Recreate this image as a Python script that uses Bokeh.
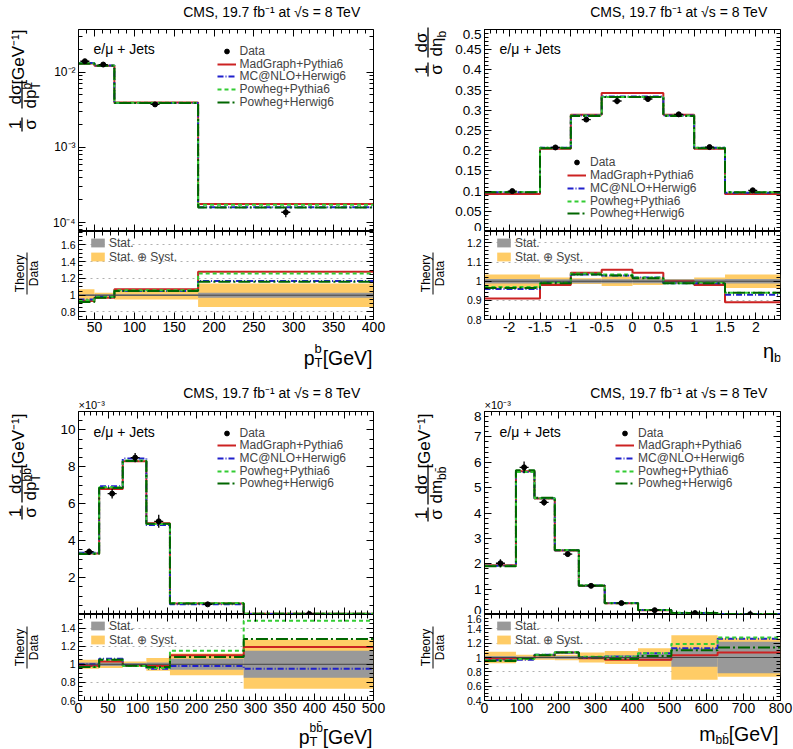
from math import pi, log10
from bokeh.plotting import figure
from bokeh.models import (Range1d, Label, Arrow, Legend, LegendItem, LinearAxis, LogAxis,
                          FixedTicker, SingleIntervalTicker, NumeralTickFormatter, Span)
from bokeh.layouts import column, row
from bokeh.embed import file_html
from bokeh.resources import INLINE

FONT = "Liberation Sans"

# ---------------- panel 1 : pT of b jets ----------------
ptb_edges = [30, 50, 75, 180, 400]
ptb_data_x = [38, 61, 126, 290]
ptb_data = [1.40e-2, 1.265e-2, 3.73e-3, 1.37e-4]
ptb_mg = [1.31e-2, 1.22e-2, 3.95e-3, 1.76e-4]
ptb_mc = [1.33e-2, 1.23e-2, 3.90e-3, 1.60e-4]
ptb_pp = [1.32e-2, 1.23e-2, 3.93e-3, 1.73e-4]
ptb_ph = [1.30e-2, 1.22e-2, 3.90e-3, 1.59e-4]
ptb_r_mg = [0.93, 0.97, 1.07, 1.28]
ptb_r_mc = [0.95, 0.98, 1.05, 1.17]
ptb_r_pp = [0.94, 0.98, 1.06, 1.26]
ptb_r_ph = [0.92, 0.97, 1.05, 1.16]
ptb_stat = [0.01, 0.01, 0.01, 0.03]
ptb_syst = [0.07, 0.03, 0.05, 0.14]

# ---------------- panel 2 : eta of b jets ----------------
eta_edges = [-2.4, -1.5, -1.0, -0.5, 0.0, 0.5, 1.0, 1.5, 2.4]
eta_data_x = [-1.95, -1.25, -0.75, -0.25, 0.25, 0.75, 1.25, 1.95]
eta_data = [0.100, 0.208, 0.277, 0.323, 0.328, 0.290, 0.209, 0.102]
eta_mg = [0.093, 0.205, 0.289, 0.343, 0.343, 0.289, 0.205, 0.093]
eta_mc = [0.097, 0.207, 0.287, 0.334, 0.334, 0.287, 0.207, 0.096]
eta_pp = [0.098, 0.207, 0.287, 0.333, 0.333, 0.287, 0.207, 0.097]
eta_ph = [0.097, 0.206, 0.286, 0.333, 0.333, 0.286, 0.206, 0.097]
eta_r_mg = [0.91, 0.98, 1.045, 1.06, 1.045, 1.0, 0.98, 0.89]
eta_r_mc = [0.96, 0.995, 1.035, 1.03, 1.02, 0.99, 0.99, 0.93]
eta_r_pp = [0.97, 0.995, 1.04, 1.035, 1.02, 0.99, 0.995, 0.94]
eta_r_ph = [0.965, 0.99, 1.035, 1.03, 1.015, 0.99, 0.99, 0.94]
eta_stat = [0.012, 0.01, 0.01, 0.01, 0.01, 0.01, 0.01, 0.012]
eta_syst = [0.035, 0.02, 0.015, 0.025, 0.02, 0.012, 0.02, 0.035]

# ---------------- panel 3 : pT of the bb system (x 1e-3) ----------------
ptbb_edges = [0, 35, 75, 115, 155, 280, 500]
ptbb_data_x = [18, 57, 96, 136, 219, 391]
ptbb_data = [3.40, 6.55, 8.50, 5.05, 0.55, 0.03]
ptbb_mg = [3.30, 6.80, 8.30, 4.95, 0.60, 0.035]
ptbb_mc = [3.35, 6.95, 8.45, 4.85, 0.56, 0.028]
ptbb_pp = [3.30, 6.90, 8.35, 4.90, 0.62, 0.044]
ptbb_ph = [3.28, 6.85, 8.32, 4.92, 0.59, 0.038]
ptbb_r_mg = [0.98, 1.03, 0.99, 0.98, 1.10, 1.19]
ptbb_r_mc = [1.00, 1.06, 0.99, 0.95, 0.98, 0.95]
ptbb_r_pp = [0.97, 1.05, 0.98, 0.96, 1.15, 1.48]
ptbb_r_ph = [0.97, 1.05, 0.985, 0.97, 1.08, 1.28]
ptbb_stat = [0.02, 0.02, 0.015, 0.02, 0.06, 0.15]
ptbb_syst = [0.05, 0.04, 0.03, 0.07, 0.12, 0.27]

# ---------------- panel 4 : mass of the bb system (x 1e-3) ----------------
mbb_edges = [0, 85, 135, 190, 255, 325, 415, 505, 630, 800]
mbb_data_x = [43, 107, 161, 225, 288, 370, 460, 569, 718]
mbb_data = [2.02, 5.80, 4.42, 2.38, 1.13, 0.45, 0.17, 0.055, 0.013]
mbb_mg = [1.94, 5.65, 4.57, 2.52, 1.13, 0.44, 0.165, 0.057, 0.014]
mbb_mc = [1.92, 5.62, 4.58, 2.53, 1.14, 0.455, 0.18, 0.062, 0.0165]
mbb_pp = [1.92, 5.62, 4.58, 2.54, 1.15, 0.455, 0.18, 0.065, 0.0167]
mbb_ph = [1.90, 5.68, 4.60, 2.53, 1.13, 0.44, 0.174, 0.060, 0.015]
mbb_r_mg = [0.98, 0.99, 1.03, 1.07, 0.99, 0.97, 0.97, 1.03, 1.07]
mbb_r_mc = [0.96, 0.97, 1.04, 1.07, 1.00, 1.01, 1.06, 1.13, 1.26]
mbb_r_pp = [0.96, 0.98, 1.04, 1.075, 1.01, 1.01, 1.06, 1.19, 1.28]
mbb_r_ph = [0.95, 0.99, 1.03, 1.07, 1.00, 0.98, 1.02, 1.10, 1.14]
mbb_stat = [0.02, 0.015, 0.015, 0.02, 0.02, 0.03, 0.05, 0.13, 0.22]
mbb_syst = [0.08, 0.04, 0.03, 0.04, 0.07, 0.09, 0.13, 0.31, 0.27]

KEYS = ["mg", "mc", "pp", "ph"]
NAMES = {"mg": "MadGraph+Pythia6", "mc": "MC@NLO+Herwig6",
         "pp": "Powheg+Pythia6", "ph": "Powheg+Herwig6"}
COL = {"mg": "#cc2222", "mc": "#2020cc", "pp": "#33cc33", "ph": "#006600"}
DASH = {"mg": "solid", "mc": "6 2 1 2", "pp": "4 3", "ph": "12 3 2 3"}
ORANGE = "#ffcc66"
GRAY = "#999999"
CMS_TEXT = "CMS, 19.7 fb\u207b\u00b9 at \u221as = 8 TeV"
CHANNEL = "e/\u03bc + Jets"
BBBAR = "bb\u0304"
LEG_FS = 12
ROW_H = 13.8   # height Bokeh gives one legend row at 12px


def base_fig(w, h, xr, yr, bl, br, bt, bb, ylog=False):
    p = figure(width=w, height=h, x_range=xr, y_range=yr, title=None,
               y_axis_type="log" if ylog else "linear",
               output_backend="svg", toolbar_location=None,
               min_border_left=bl, min_border_right=br,
               min_border_top=bt, min_border_bottom=bb)
    p.outline_line_color = "black"
    p.outline_line_width = 1
    p.background_fill_color = "white"
    p.border_fill_color = "white"
    p.xgrid.visible = False
    p.ygrid.visible = False
    return p


def text_fig(w, h, bl=0, br=0):
    p = figure(width=w, height=h, x_range=(0, 1), y_range=(0, 1), title=None,
               output_backend="svg", toolbar_location=None,
               min_border_left=bl, min_border_right=br, min_border_top=0, min_border_bottom=0,
               x_axis_location=None, y_axis_location=None)
    p.outline_line_color = None
    p.grid.visible = False
    p.background_fill_color = "white"
    p.border_fill_color = "white"
    return p


def style_axis(ax, ticker, label_size=None, formatter=None, standoff=2, overrides=None, loc=None):
    ax.ticker = ticker
    ax.axis_line_color = "black"
    ax.major_tick_in = 7
    ax.major_tick_out = 0
    ax.minor_tick_in = 4
    ax.minor_tick_out = 0
    ax.major_tick_line_color = "black"
    ax.minor_tick_line_color = "black"
    ax.axis_label = None
    if label_size is None:
        ax.major_label_text_color = None
        ax.major_label_standoff = 0
        ax.fixed_location = loc
    else:
        ax.major_label_text_font = FONT
        ax.major_label_text_font_size = f"{label_size}px"
        ax.major_label_text_color = "black"
        ax.major_label_standoff = standoff
        if formatter is not None:
            ax.formatter = formatter
        if overrides is not None:
            ax.major_label_overrides = overrides


def add_axes(p, xr, yr, xt, yt, xlab, ylab, xfmt=None, yfmt=None, ylog=False, yover=None):
    style_axis(p.xaxis[0], xt, xlab, xfmt, standoff=2, loc=yr.start)
    style_axis(p.yaxis[0], yt, ylab, yfmt, standoff=3, overrides=yover)
    top = LinearAxis()
    style_axis(top, xt, loc=yr.end)
    p.add_layout(top, "above")
    right = LogAxis() if ylog else LinearAxis()
    style_axis(right, yt, loc=xr.end)
    p.add_layout(right, "right")


def edge_label(p, xpos, ypos, text, size):
    # the half of a main-panel tick label that spills over the frame edge into a neighbour strip
    ax = LinearAxis(fixed_location=xpos, ticker=FixedTicker(ticks=[ypos]),
                    major_label_overrides={ypos: text})
    ax.axis_line_color = None
    ax.major_tick_in = 0
    ax.major_tick_out = 0
    ax.minor_tick_in = 0
    ax.minor_tick_out = 0
    ax.major_label_text_font = FONT
    ax.major_label_text_font_size = f"{size}px"
    ax.major_label_text_color = "black"
    ax.major_label_standoff = 3
    p.add_layout(ax, "left")


def hl(p, F, px, py, text, size, align="left", baseline="alphabetic"):
    p.add_layout(Label(x=px - F[0], y=F[1] - py, x_units="screen", y_units="screen",
                       text=text, text_font=FONT, text_font_size=f"{size}px",
                       text_align=align, text_baseline=baseline, text_color="black"))


def channel_label(p, xr, yr, fw, fh, dx, dy, ylog=False):
    # place the channel text dx px right of the frame's left edge, dy px below its top
    x = xr.start + dx * (xr.end - xr.start) / fw
    if ylog:
        y = 10 ** (log10(yr.end) - dy * (log10(yr.end) - log10(yr.start)) / fh)
    else:
        y = yr.end - dy * (yr.end - yr.start) / fh
    p.add_layout(Label(x=x, y=y, text=CHANNEL, text_font=FONT, text_font_size="14px",
                       text_align="left", text_baseline="middle", text_color="black"))


def rl(p, F, px, py, text, size, align="center"):
    p.add_layout(Label(x=px - F[0], y=F[1] - py, x_units="screen", y_units="screen",
                       angle=pi / 2, text=text, text_font=FONT,
                       text_font_size=f"{size}px", text_align=align,
                       text_baseline="middle", text_color="black"))


def vb(p, F, px, y0, y1, w=1.3):
    p.add_layout(Arrow(end=None, x_start=px - F[0], y_start=F[1] - y0,
                       x_end=px - F[0], y_end=F[1] - y1,
                       start_units="screen", end_units="screen",
                       line_color="black", line_width=w))


def step_y(v):
    return list(v) + [v[-1]]


def draw_main(p, edges, mains, dx, dy, syst):
    lines = {}
    for k in KEYS:
        lines[k] = p.step(x=edges, y=step_y(mains[k]), mode="after", line_color=COL[k],
                          line_width=2, line_dash=DASH[k])
    lo = [y - y * s for y, s in zip(dy, syst)]
    hi = [y + y * s for y, s in zip(dy, syst)]
    p.segment(x0=dx, y0=lo, x1=dx, y1=hi, line_color="black", line_width=1.3)
    p.scatter(x=dx, y=dy, marker="dash", size=9, line_color="black", line_width=1.3)
    rd = p.scatter(x=dx, y=dy, marker="circle", size=5, fill_color="black", line_color="black")
    return rd, lines


def draw_ratio(p, edges, ratios, stat, syst):
    left, right = edges[:-1], edges[1:]
    rsy = p.quad(left=left, right=right, bottom=[1 - s for s in syst], top=[1 + s for s in syst],
                 fill_color=ORANGE, line_color=None)
    rst = p.quad(left=left, right=right, bottom=[1 - s for s in stat], top=[1 + s for s in stat],
                 fill_color=GRAY, line_color=None)
    p.add_layout(Span(location=1, dimension="width", line_color="#444444", line_width=1, level="glyph"))
    for k in KEYS:
        p.step(x=edges, y=step_y(ratios[k]), mode="after", line_color=COL[k],
               line_width=2, line_dash=DASH[k])
    return rst, rsy


def main_legend(p, rd, lines, vx, B, y_first, pitch):
    entries = [("Data", rd)] + [(NAMES[k], lines[k]) for k in KEYS]
    for i, (lab, r) in enumerate(entries):
        yc = y_first + pitch * i
        lg = Legend(items=[LegendItem(label=lab, renderers=[r])],
                    location=(vx, B - yc - ROW_H / 2), orientation="vertical",
                    background_fill_alpha=0, border_line_alpha=0,
                    label_text_font=FONT, label_text_font_size=f"{LEG_FS}px",
                    label_height=12, glyph_height=12, glyph_width=19,
                    label_standoff=4, spacing=0, padding=0, margin=0)
        p.add_layout(lg)


def ratio_legend(p, rst, rsy, vx, vy):
    items = [LegendItem(label="Stat.", renderers=[rst]),
             LegendItem(label="Stat. \u2295 Syst.", renderers=[rsy])]
    lg = Legend(items=items, location=(vx, vy), orientation="vertical",
                background_fill_alpha=0, border_line_alpha=0,
                label_text_font=FONT, label_text_font_size="12px",
                label_height=11, glyph_height=11, glyph_width=17,
                label_standoff=3, spacing=0, padding=0, margin=0)
    p.add_layout(lg)
    p.ygrid.visible = True
    p.ygrid.grid_line_dash = "dotted"
    p.ygrid.grid_line_color = "#b0b0b0"


def theory_data(p, F, L, cy):
    rl(p, F, L - 59, cy, "Theory", 12)
    rl(p, F, L - 44.5, cy, "Data", 12)
    vb(p, F, L - 51.5, cy - 21, cy + 21, 1)


# ---------------- geometry (page pixels) ----------------
WL1, WL2 = 42, 52          # left text strips
WP1, WP2 = 356, 343        # panel figure widths
BL1, BR1 = 36, 25
BL2, BR2 = 34, 13
FW1, FW2 = WP1 - BL1 - BR1, WP2 - BL2 - BR2
TT1, TT2 = 29, 41          # title strip heights
HM1, HM2 = 202, 203        # main frame heights
HR1, HR2 = 108, 106        # ratio figure heights (frame + tick labels)
XB1, XB2 = 31, 29          # x-title strip heights
RBB = 20

# ================= panel 1 =================
L, R, T, B, RB = 78, 373, 29, 231, 319
xr1 = Range1d(30, 400)
yr1m, yr1r = Range1d(7.6e-5, 0.037), Range1d(0.71, 1.76)
m1 = base_fig(WP1, HM1, xr1, yr1m, BL1, BR1, 0, 0, ylog=True)
r1 = base_fig(WP1, HR1, xr1, yr1r, BL1, BR1, 0, RBB)
lt1 = text_fig(WL1, TT1 + HM1 + HR1 + XB1)
tt1 = text_fig(WP1, TT1, BL1, BR1)
bt1 = text_fig(WP1, XB1, BL1, BR1)
FLT, FTT, FBT = (0, 370), (L, 29), (L, 370)
xt = SingleIntervalTicker(interval=50, num_minor_ticks=5)
log_minor = [k * 10.0 ** e for e in (-5, -4, -3, -2) for k in range(2, 10)]
yt = FixedTicker(ticks=[1e-4, 1e-3, 1e-2], minor_ticks=log_minor)
add_axes(m1, xr1, yr1m, xt, yt, None, 12, ylog=True,
         yover={1e-4: "10\u207b\u2074", 1e-3: "10\u207b\u00b3", 1e-2: "10\u207b\u00b2"})
add_axes(r1, xr1, yr1r, xt, SingleIntervalTicker(interval=0.2, num_minor_ticks=4), 14, 10.5,
         yfmt=NumeralTickFormatter(format="0.[0]"))
rd, lines = draw_main(m1, ptb_edges, {"mg": ptb_mg, "mc": ptb_mc, "pp": ptb_pp, "ph": ptb_ph},
                      ptb_data_x, ptb_data, ptb_syst)
rst, rsy = draw_ratio(r1, ptb_edges, {"mg": ptb_r_mg, "mc": ptb_r_mc, "pp": ptb_r_pp, "ph": ptb_r_ph},
                      ptb_stat, ptb_syst)
main_legend(m1, rd, lines, 138.5, B, 51, 12.7)
ratio_legend(r1, rst, rsy, 11, 55.25)
hl(tt1, FTT, R - 13, T - 18, CMS_TEXT, 14, "right", "middle")
channel_label(m1, xr1, yr1m, FW1, HM1, 15, 19, ylog=True)
rl(lt1, FLT, L - 60, T + 0, "[GeV\u207b\u00b9]", 17, "right")
vb(lt1, FLT, L - 56.5, T + 51, T + 79)
rl(lt1, FLT, L - 63.5, T + 65, "d\u03c3", 17)
rl(lt1, FLT, L - 48.5, T + 79, "dp", 17, "left")
rl(lt1, FLT, L - 43, T + 60, "T", 12, "left")
rl(lt1, FLT, L - 52, T + 60, "b", 12, "left")
vb(lt1, FLT, L - 56.5, T + 88, T + 102)
rl(lt1, FLT, L - 63.5, T + 95, "1", 17)
rl(lt1, FLT, L - 48.5, T + 95, "\u03c3", 17)
theory_data(lt1, FLT, L, B + 42)
hl(bt1, FBT, R - 1, 357, "[GeV]", 19.5, "right")
hl(bt1, FBT, 314, 357, "p", 19.5, "right")
hl(bt1, FBT, 314, 362, "T", 13, "left")
hl(bt1, FBT, 314, 348, "b", 13, "left")
col1 = row(lt1, column(tt1, m1, r1, bt1))

# ================= panel 2 =================
L, R, T, B, RB = 484, 780, 29, 231, 319
xr2 = Range1d(-2.4, 2.4)
yr2m, yr2r = Range1d(0, 0.5), Range1d(0.8, 1.26)
m2 = base_fig(WP2, HM1, xr2, yr2m, BL2, BR2, 0, 0)
r2 = base_fig(WP2, HR1, xr2, yr2r, BL2, BR2, 0, RBB)
lt2 = text_fig(WL2, TT1 + HM1 + HR1 + XB1)
tt2 = text_fig(WP2, TT1, BL2, BR2)
bt2 = text_fig(WP2, XB1, BL2, BR2)
FLT, FTT, FBT = (398, 370), (L, 29), (L, 370)
xt = SingleIntervalTicker(interval=0.5, num_minor_ticks=5)
add_axes(m2, xr2, yr2m, xt, SingleIntervalTicker(interval=0.05, num_minor_ticks=5), None, 13.5,
         yfmt=NumeralTickFormatter(format="0.[00]"))
add_axes(r2, xr2, yr2r, xt, SingleIntervalTicker(interval=0.1, num_minor_ticks=5), 14, 10.5,
         xfmt=NumeralTickFormatter(format="0.[0]"), yfmt=NumeralTickFormatter(format="0.[0]"))
edge_label(r2, xr2.start, yr2r.end, "0", 13.5)
edge_label(tt2, 0, 0, "0.5", 13.5)
rd, lines = draw_main(m2, eta_edges, {"mg": eta_mg, "mc": eta_mc, "pp": eta_pp, "ph": eta_ph},
                      eta_data_x, eta_data, eta_syst)
rst, rsy = draw_ratio(r2, eta_edges, {"mg": eta_r_mg, "mc": eta_r_mc, "pp": eta_r_pp, "ph": eta_r_ph},
                      eta_stat, eta_syst)
main_legend(m2, rd, lines, 83, B, 162.5, 12.75)
ratio_legend(r2, rst, rsy, 11, 55.25)
hl(tt2, FTT, R - 13, T - 18, CMS_TEXT, 14, "right", "middle")
channel_label(m2, xr2, yr2m, FW2, HM1, 15, 19)
vb(lt2, FLT, L - 56.5, T - 2, T + 28)
rl(lt2, FLT, L - 63.5, T + 13, "d\u03c3", 17)
rl(lt2, FLT, L - 48.5, T + 27, "d\u03b7", 17, "left")
rl(lt2, FLT, L - 43, T + 8, "b", 12, "left")
vb(lt2, FLT, L - 56.5, T + 33, T + 47)
rl(lt2, FLT, L - 63.5, T + 40, "1", 17)
rl(lt2, FLT, L - 48.5, T + 40, "\u03c3", 17)
theory_data(lt2, FLT, L, B + 42)
hl(bt2, FBT, 773.5, 350, "\u03b7", 20, "right")
hl(bt2, FBT, 773.5, 357, "b", 13, "left")
col2 = row(lt2, column(tt2, m2, r2, bt2))

# ================= panel 3 =================
L, R, T, B, RB = 78, 373, 411, 614, 700
xr3 = Range1d(0, 500)
yr3m, yr3r = Range1d(0, 11), Range1d(0.6, 1.55)
m3 = base_fig(WP1, HM2, xr3, yr3m, BL1, BR1, 0, 0)
r3 = base_fig(WP1, HR2, xr3, yr3r, BL1, BR1, 0, RBB)
lt3 = text_fig(WL1, TT2 + HM2 + HR2 + XB2)
tt3 = text_fig(WP1, TT2, BL1, BR1)
bt3 = text_fig(WP1, XB2, BL1, BR1)
FLT, FTT, FBT = (0, 749), (L, 411), (L, 749)
xt = SingleIntervalTicker(interval=50, num_minor_ticks=5)
add_axes(m3, xr3, yr3m, xt, FixedTicker(ticks=[2, 4, 6, 8, 10], minor_ticks=[0.5 * i for i in range(1, 22)]),
         None, 13.5)
add_axes(r3, xr3, yr3r, xt, SingleIntervalTicker(interval=0.2, num_minor_ticks=4), 14, 10.5,
         yfmt=NumeralTickFormatter(format="0.[0]"))
rd, lines = draw_main(m3, ptbb_edges, {"mg": ptbb_mg, "mc": ptbb_mc, "pp": ptbb_pp, "ph": ptbb_ph},
                      ptbb_data_x, ptbb_data, ptbb_syst)
rst, rsy = draw_ratio(r3, ptbb_edges, {"mg": ptbb_r_mg, "mc": ptbb_r_mc, "pp": ptbb_r_pp, "ph": ptbb_r_ph},
                      ptbb_stat, ptbb_syst)
main_legend(m3, rd, lines, 138.5, B, 432.7, 12.65)
ratio_legend(r3, rst, rsy, 11, 53.25)
hl(tt3, FTT, R - 13, T - 19, CMS_TEXT, 14, "right", "middle")
channel_label(m3, xr3, yr3m, FW1, HM2, 15, 20)
hl(tt3, FTT, L, T - 7, "\u00d710\u207b\u00b3", 11, "left", "middle")
rl(lt3, FLT, L - 60, T + 2, "[GeV\u207b\u00b9]", 17, "right")
vb(lt3, FLT, L - 56.5, T + 54, T + 91)
rl(lt3, FLT, L - 63.5, T + 72.5, "d\u03c3", 17)
rl(lt3, FLT, L - 48.5, T + 89, "dp", 17, "left")
rl(lt3, FLT, L - 43, T + 70, "T", 12, "left")
rl(lt3, FLT, L - 52, T + 70, BBBAR, 12, "left")
vb(lt3, FLT, L - 56.5, T + 94, T + 108)
rl(lt3, FLT, L - 63.5, T + 101, "1", 17)
rl(lt3, FLT, L - 48.5, T + 101, "\u03c3", 17)
theory_data(lt3, FLT, L, B + 33)
hl(bt3, FBT, R - 1, 736, "[GeV]", 19.5, "right")
hl(bt3, FBT, 309, 736, "p", 19.5, "right")
hl(bt3, FBT, 309, 741, "T", 13, "left")
hl(bt3, FBT, 309, 727, BBBAR, 12, "left")
col3 = row(lt3, column(tt3, m3, r3, bt3))

# ================= panel 4 =================
L, R, T, B, RB = 484, 780, 411, 614, 700
xr4 = Range1d(0, 800)
yr4m, yr4r = Range1d(0, 8), Range1d(0.4, 1.6)
m4 = base_fig(WP2, HM2, xr4, yr4m, BL2, BR2, 0, 0)
r4 = base_fig(WP2, HR2, xr4, yr4r, BL2, BR2, 0, RBB)
lt4 = text_fig(WL2, TT2 + HM2 + HR2 + XB2)
tt4 = text_fig(WP2, TT2, BL2, BR2)
bt4 = text_fig(WP2, XB2, BL2, BR2)
FLT, FTT, FBT = (398, 749), (L, 411), (L, 749)
xt = SingleIntervalTicker(interval=100, num_minor_ticks=5)
add_axes(m4, xr4, yr4m, xt, SingleIntervalTicker(interval=1, num_minor_ticks=5), None, 13.5)
add_axes(r4, xr4, yr4r, xt, SingleIntervalTicker(interval=0.2, num_minor_ticks=4), 14, 10.5,
         yfmt=NumeralTickFormatter(format="0.[0]"))
edge_label(r4, xr4.start, yr4r.end, "0", 13.5)
edge_label(tt4, 0, 0, "8", 13.5)
rd, lines = draw_main(m4, mbb_edges, {"mg": mbb_mg, "mc": mbb_mc, "pp": mbb_pp, "ph": mbb_ph},
                      mbb_data_x, mbb_data, mbb_syst)
rst, rsy = draw_ratio(r4, mbb_edges, {"mg": mbb_r_mg, "mc": mbb_r_mc, "pp": mbb_r_pp, "ph": mbb_r_ph},
                      mbb_stat, mbb_syst)
main_legend(m4, rd, lines, 131, B, 432.7, 12.65)
ratio_legend(r4, rst, rsy, 11, 53.25)
hl(tt4, FTT, R - 13, T - 19, CMS_TEXT, 14, "right", "middle")
channel_label(m4, xr4, yr4m, FW2, HM2, 15, 20)
hl(tt4, FTT, L, T - 7, "\u00d710\u207b\u00b3", 11, "left", "middle")
rl(lt4, FLT, L - 60, T + 2, "[GeV\u207b\u00b9]", 17, "right")
vb(lt4, FLT, L - 56.5, T + 53, T + 93)
rl(lt4, FLT, L - 63.5, T + 73, "d\u03c3", 17)
rl(lt4, FLT, L - 48.5, T + 92, "dm", 17, "left")
rl(lt4, FLT, L - 43, T + 68.4, BBBAR, 12, "left")
vb(lt4, FLT, L - 56.5, T + 96, T + 110)
rl(lt4, FLT, L - 63.5, T + 103, "1", 17)
rl(lt4, FLT, L - 48.5, T + 103, "\u03c3", 17)
theory_data(lt4, FLT, L, B + 33)
hl(bt4, FBT, 778, 733, "[GeV]", 19.5, "right")
hl(bt4, FBT, 715, 733, "m", 19.5, "right")
hl(bt4, FBT, 715, 739, BBBAR, 12, "left")
col4 = row(lt4, column(tt4, m4, r4, bt4))

layout = column(row(col1, col2), row(col3, col4))

open("out.html", "w").write(file_html(layout, INLINE, title="CMS b-jet distributions"))
